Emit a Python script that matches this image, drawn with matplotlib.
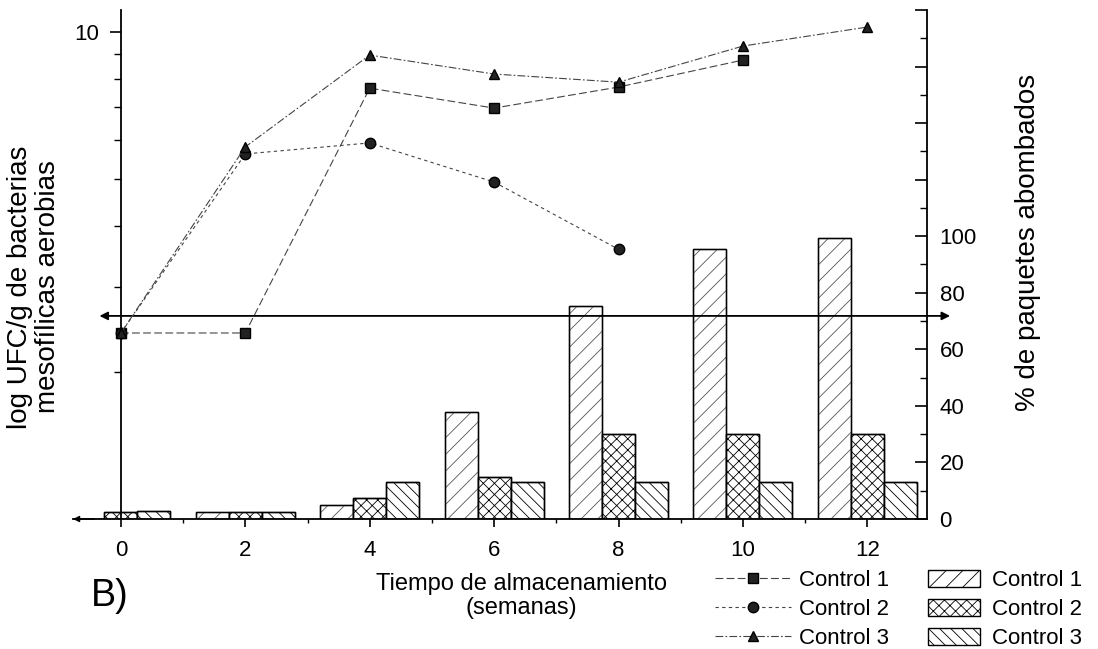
import matplotlib
matplotlib.use("Agg")
import matplotlib.pyplot as plt
import numpy as np
from matplotlib.ticker import FixedLocator, NullFormatter, FuncFormatter
from matplotlib.lines import Line2D
from matplotlib.patches import Patch

plt.rcParams['font.family'] = ['Liberation Sans', 'DejaVu Sans']
plt.rcParams['hatch.linewidth'] = 0.6

# storage time (weeks)
weeks = [0, 2, 4, 6, 8, 10, 12]

c1_weeks = [0, 2, 4, 6, 8, 10]
c1_ufc = [2.41, 2.41, 7.67, 6.98, 7.71, 8.76]
c2_weeks = [0, 2, 4, 6, 8]
c2_ufc = [2.41, 5.62, 5.92, 4.92, 3.58]
c3_weeks = [0, 2, 4, 6, 8, 10, 12]
c3_ufc = [2.41, 5.81, 8.97, 8.20, 7.89, 9.36, 10.24]

# % swollen packages (bars, right axis)
c1_pct = [0, 2.5, 5, 38, 75.5, 95.5, 99.5]
c2_pct = [2.5, 2.5, 7.5, 15, 30, 30, 30]
c3_pct = [3, 2.5, 13, 13, 13, 13, 13]

labels = ['Control 1', 'Control 2', 'Control 3']

fig = plt.figure(figsize=(10.98, 6.49), dpi=100)
ax = fig.add_axes([0.0665, 0.2003, 0.7778, 0.7843])
axl = ax.twinx()
ax.yaxis.tick_right()
ax.yaxis.set_label_position('right')

# bars
w = 0.53
x = np.array(weeks, dtype=float)
hatches = ['//', 'xxx', '\\\\\\']
hatch_cols = ['#555555', 'black', 'black']
for off, vals, h, hc in zip([-w, 0, w], [c1_pct, c2_pct, c3_pct], hatches, hatch_cols):
    ax.bar(x + off, vals, width=w, facecolor='white', edgecolor=hc,
           linewidth=1.0, hatch=h)
    # outline in black on top of the hatch colour
    ax.bar(x + off, vals, width=w, facecolor='none', edgecolor='black', linewidth=1.0)

ax.set_xlim(-0.77, 12.96)
ax.set_ylim(0, 180)
ax.xaxis.set_major_locator(FixedLocator(weeks))
ax.xaxis.set_minor_locator(FixedLocator([1, 3, 5, 7, 9, 11]))
ax.tick_params(axis='x', which='major', direction='out', length=6, width=1.2,
               pad=9, labelsize=16)
ax.tick_params(axis='x', which='minor', direction='out', length=3, width=1.0)
ax.yaxis.set_major_locator(FixedLocator(list(range(0, 181, 20))))
ax.yaxis.set_minor_locator(FixedLocator(list(range(10, 181, 20))))
ax.yaxis.set_major_formatter(FuncFormatter(lambda v, p: f"{int(v)}" if v <= 100 else ""))
ax.tick_params(axis='y', which='major', direction='in', length=9, width=1.2,
               pad=9, labelsize=16, right=True, left=False)
ax.tick_params(axis='y', which='minor', direction='in', length=5, width=1.0,
               right=True, left=False)
for s in ['top', 'left']:
    ax.spines[s].set_visible(False)
ax.spines['right'].set_linewidth(1.3)
ax.spines['bottom'].set_linewidth(1.3)

# lines on log axis
axl.yaxis.tick_left()
axl.set_yscale('log')
axl.set_ylim(1, 11.1)
axl.yaxis.set_major_locator(FixedLocator([10]))
axl.yaxis.set_minor_locator(FixedLocator([2, 3, 4, 5, 6, 7, 8, 9]))
axl.yaxis.set_major_formatter(FuncFormatter(lambda v, p: "10"))
axl.yaxis.set_minor_formatter(NullFormatter())
axl.tick_params(axis='y', which='major', direction='out', length=8, width=1.2,
                pad=8, labelsize=16, left=True, right=False)
axl.tick_params(axis='y', which='minor', direction='out', length=5, width=1.0,
                left=True, right=False)
for s in ['top', 'right', 'bottom']:
    axl.spines[s].set_visible(False)
axl.spines['left'].set_position(('data', 0))
axl.spines['left'].set_linewidth(1.3)

styles = [(0, (7, 3)), (0, (3, 3)), (0, (7, 2, 1.5, 2))]
markers = ['s', 'o', '^']
for xs, ys, ls, m in zip([c1_weeks, c2_weeks, c3_weeks], [c1_ufc, c2_ufc, c3_ufc],
                         styles, markers):
    axl.plot(xs, ys, color='#444444', linewidth=0.8, linestyle=ls,
             marker=m, markersize=7.5, markerfacecolor='#222222',
             markeredgecolor='black', clip_on=False, zorder=5)

# separator arrow between the two scales
ax.annotate('', xy=(0.031, 0.399), xytext=(1.027, 0.399), xycoords='axes fraction',
            arrowprops=dict(arrowstyle='<|-|>', lw=1.3, color='black',
                            mutation_scale=12, shrinkA=0, shrinkB=0),
            annotation_clip=False)
ax.annotate('', xy=(0.0, 0.0), xytext=(0.025, 0.0), xycoords='axes fraction',
            arrowprops=dict(arrowstyle='-|>', lw=1.0, color='black',
                            mutation_scale=9, shrinkA=0, shrinkB=0),
            annotation_clip=False)

# axis titles
fig.text(0.031, 0.5578, 'log UFC/g de bacterias\nmesofílicas aerobias',
         rotation=90, ha='center', va='center', fontsize=20, linespacing=1.1)
fig.text(0.9362, 0.627, '% de paquetes abombados', rotation=90,
         ha='center', va='center', fontsize=20)
fig.text(0.4745, 0.0817, 'Tiempo de almacenamiento\n(semanas)', ha='center',
         va='center', fontsize=17, linespacing=1.15)
fig.text(0.1, 0.0817, 'B)', ha='center', va='center', fontsize=27)

# legends
line_handles = [Line2D([], [], color='#444444', linewidth=0.8, linestyle=ls,
                       marker=m, markersize=7.5, markerfacecolor='#222222',
                       markeredgecolor='black')
                for ls, m in zip(styles, markers)]
fig.legend(line_handles, labels, loc='upper left', bbox_to_anchor=(0.6512, 0.122),
           frameon=False, fontsize=16, handlelength=3.4, handletextpad=0.36,
           labelspacing=0.36, borderpad=0, borderaxespad=0)
bar_handles = [Patch(facecolor='white', edgecolor='black', hatch=h, linewidth=1.0)
               for h in hatches]
fig.legend(bar_handles, labels, loc='upper left', bbox_to_anchor=(0.845, 0.122),
           frameon=False, fontsize=16, handlelength=2.35, handleheight=0.78,
           handletextpad=0.55, labelspacing=0.36, borderpad=0, borderaxespad=0)

fig.savefig('out.png', dpi=100)
